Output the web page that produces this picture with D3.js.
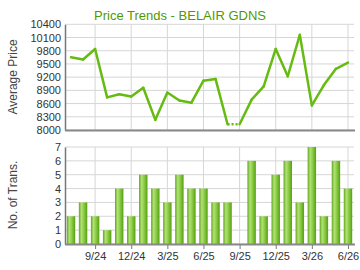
<!DOCTYPE html>
<html>
<head>
<meta charset="utf-8">
<script src="https://cdn.jsdelivr.net/npm/d3@7"></script>
<style>
  body { margin: 0; background: #fff; }
  text { font-family: "Liberation Sans", Arial, sans-serif; }
</style>
</head>
<body>
<div id="chart"></div>
<script>
// Months shown (one bar / one point each)
const months = ['7/24','8/24','9/24','10/24','11/24','12/24','1/25','2/25','3/25','4/25','5/25','6/25',
                '7/25','8/25','9/25','10/25','11/25','12/25','1/26','2/26','3/26','4/26','5/26','6/26'];
// Average price per month (null = no transactions)
const prices = [9650, 9600, 9840, 8740, 8810, 8760, 8960, 8230, 8850, 8670, 8620, 9120,
                9160, 8130, null, 8690, 8990, 9840, 9220, 10160, 8560, 9020, 9390, 9530];
// Number of transactions per month
const trans = [2, 3, 2, 1, 4, 2, 5, 4, 3, 5, 4, 4, 3, 3, 0, 6, 2, 5, 6, 3, 7, 2, 6, 4];
// Tick labels on the x axis
const xTicks = ['9/24','12/24','3/25','6/25','9/25','12/25','3/26','6/26'];
const priceTicks = [8000, 8300, 8600, 8900, 9200, 9500, 9800, 10100, 10400];
const transTicks = [0, 1, 2, 3, 4, 5, 6, 7];

const W = 360, H = 270;
const left = 65, right = 354;

const svg = d3.select('#chart').append('svg')
    .attr('width', W)
    .attr('height', H);

const defs = svg.append('defs');
const grad = defs.append('linearGradient').attr('id', 'barGrad')
    .attr('x1', '0%').attr('x2', '100%').attr('y1', '0%').attr('y2', '0%');
grad.append('stop').attr('offset', '0%').attr('stop-color', '#5ea815');
grad.append('stop').attr('offset', '30%').attr('stop-color', '#b2e07a');
grad.append('stop').attr('offset', '55%').attr('stop-color', '#92d04c');
grad.append('stop').attr('offset', '100%').attr('stop-color', '#55a010');

// Scales
const xBand = d3.scaleBand().domain(months).range([left, right]).paddingInner(0.3).paddingOuter(0.15);
const xMid = m => xBand(m) + xBand.bandwidth() / 2;
const yPrice = d3.scaleLinear().domain([8000, 10400]).range([130, 24.3]);
const yTrans = d3.scaleLinear().domain([0, 7]).range([244, 147]);

// Title
svg.append('text')
    .attr('x', 180).attr('y', 20)
    .attr('text-anchor', 'middle')
    .attr('fill', '#4f9a00')
    .style('font-size', '13px')
    .text('Price Trends - BELAIR GDNS');

const gridColor = '#d6d6d6';

function drawPanel(y, ticks, top, bottom, title, titleY) {
    const g = svg.append('g');
    // horizontal grid
    g.selectAll('line.h').data(ticks).enter().append('line')
        .attr('x1', left).attr('x2', right)
        .attr('y1', d => y(d)).attr('y2', d => y(d))
        .attr('stroke', gridColor).attr('stroke-width', 1);
    // vertical grid
    g.selectAll('line.v').data(xTicks).enter().append('line')
        .attr('x1', d => xMid(d)).attr('x2', d => xMid(d))
        .attr('y1', top).attr('y2', bottom)
        .attr('stroke', gridColor).attr('stroke-width', 1);
    // y axis
    const ax = svg.append('g')
        .attr('transform', `translate(${left},0)`)
        .call(d3.axisLeft(y).tickValues(ticks).tickFormat(d3.format('d')).tickSize(0).tickPadding(4));
    ax.select('.domain').attr('stroke', '#777').attr('stroke-width', 1.5);
    ax.selectAll('text').attr('fill', '#333').style('font-size', '11px');
    // axis title
    svg.append('text')
        .attr('transform', `translate(17,${titleY}) rotate(-90)`)
        .attr('text-anchor', 'middle')
        .attr('fill', '#444')
        .style('font-size', '12px')
        .text(title);
}

drawPanel(yPrice, priceTicks, 24.3, 130, 'Average Price', 77);
drawPanel(yTrans, transTicks, 147, 244, 'No. of Trans.', 195);

// Bottom axis line of the top panel
svg.append('line').attr('x1', left).attr('x2', right + 1).attr('y1', 130.5).attr('y2', 130.5)
    .attr('stroke', '#888').attr('stroke-width', 2);

// Price line: a missing month carries the previous price, reached by a dotted step
const pts = [];
months.forEach((m, i) => {
    const v = prices[i] != null ? prices[i] : pts[i - 1].v;
    pts.push({ m, v, missing: prices[i] == null });
});
const line = d3.line().x(d => xMid(d.m)).y(d => yPrice(d.v));
for (let i = 1; i < pts.length; i++) {
    svg.append('path').datum([pts[i - 1], pts[i]])
        .attr('fill', 'none')
        .attr('stroke', '#66bb11')
        .attr('stroke-width', 2.5)
        .attr('stroke-linecap', pts[i].missing ? 'butt' : 'round')
        .attr('stroke-dasharray', pts[i].missing ? '2,2' : null)
        .attr('d', line);
}

// Bars
svg.selectAll('rect.bar').data(months).enter().append('rect')
    .attr('class', 'bar')
    .attr('x', d => xBand(d))
    .attr('width', xBand.bandwidth())
    .attr('y', (d, i) => yTrans(trans[i]))
    .attr('height', (d, i) => yTrans(0) - yTrans(trans[i]))
    .attr('fill', 'url(#barGrad)');

// x axis for the bottom panel
const xAxis = svg.append('g')
    .attr('transform', 'translate(0,244)')
    .call(d3.axisBottom(d3.scalePoint().domain(xTicks).range([xMid(xTicks[0]), xMid(xTicks[xTicks.length - 1])]))
        .tickSize(5).tickPadding(3).tickSizeOuter(0));
xAxis.select('.domain').remove();
xAxis.selectAll('line').attr('stroke', '#777');
xAxis.selectAll('text').attr('fill', '#333').style('font-size', '11px');
svg.append('line').attr('x1', left).attr('x2', right + 1).attr('y1', 244.5).attr('y2', 244.5)
    .attr('stroke', '#888').attr('stroke-width', 2);
</script>
</body>
</html>
